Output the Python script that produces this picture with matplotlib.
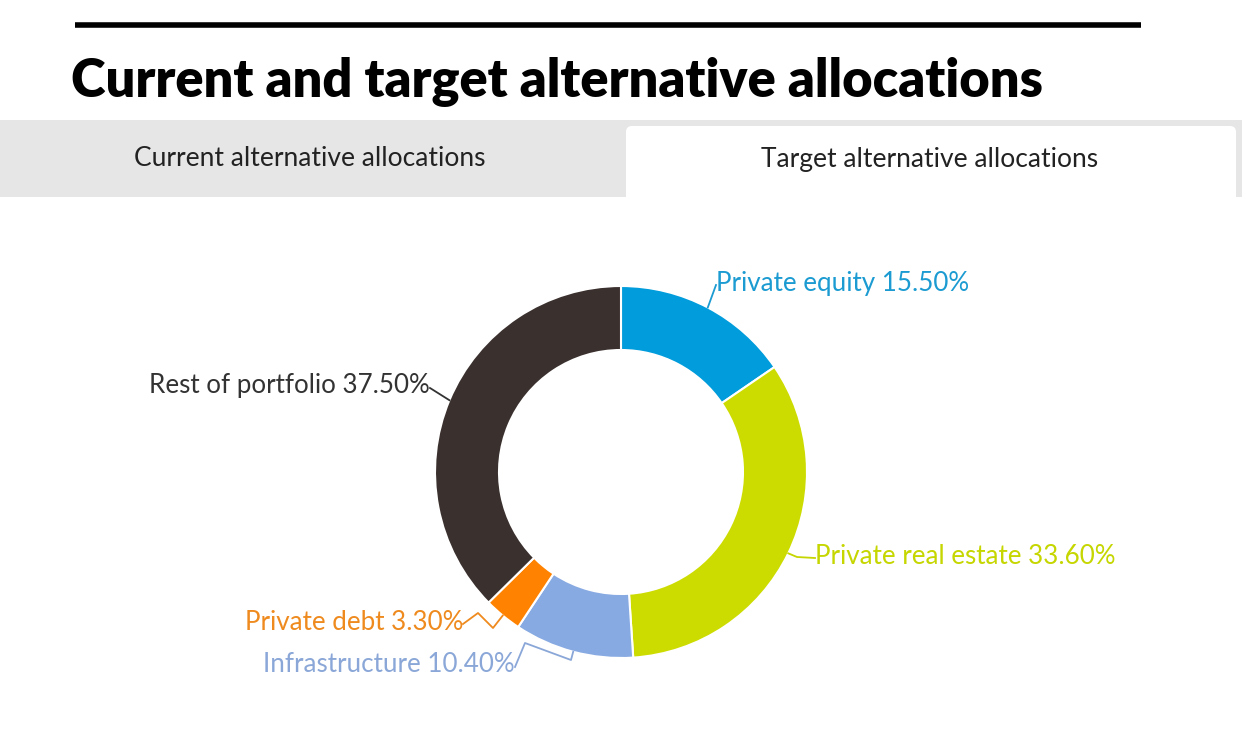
import numpy as np
import matplotlib as mpl
import matplotlib.pyplot as plt
from matplotlib.patches import Rectangle, FancyBboxPatch

mpl.use('Agg')

# data
categorias = ["Private equity", "Private real estate", "Infrastructure",
              "Private debt", "Rest of portfolio"]
valores = [15.50, 33.60, 10.40, 3.30, 37.50]
cores = ["#009cdb", "#cddc00", "#88aae2", "#ff8200", "#3a302e"]
cores_texto = ["#1b9bd1", "#c5d600", "#8aa7d8", "#ee8a1e", "#333333"]
abas = ["Current alternative allocations", "Target alternative allocations"]
titulo = "Current and target alternative allocations"

W, H = 1242, 754
fig = plt.figure(figsize=(W / 100, H / 100), dpi=100)
ax = fig.add_axes([0, 0, 1, 1])


def py(y):
    # y da imagem (de cima) para y do eixo (de baixo)
    return H - y


# donut
cx, cy, r = 621, py(472), 186
largura = 64
wedges, _ = ax.pie(valores, colors=cores, startangle=90, counterclock=False,
                   center=(cx, cy), radius=r,
                   wedgeprops=dict(width=largura, edgecolor='white', linewidth=1.5))
ax.set_xlim(0, W)
ax.set_ylim(0, H)
ax.set_aspect('equal')
ax.axis('off')

# linha do topo e titulo
ax.plot([75, 1141], [py(25), py(25)], color='black', lw=4, solid_capstyle='butt')
ax.text(71, py(82), titulo, fontsize=37.7, fontweight='heavy', family='Lato',
        va='center', ha='left', color='black')

# abas
ax.add_patch(Rectangle((0, py(197)), W, 77, facecolor='#e6e6e6', edgecolor='none'))
ax.add_patch(FancyBboxPatch((626, py(210)), 610, 84,
                            boxstyle="round,pad=0,rounding_size=6",
                            facecolor='white', edgecolor='none'))
ax.text(310, py(159), abas[0], fontsize=19, family='Lato', ha='center', va='center', color='#222222')
ax.text(930, py(159), abas[1], fontsize=19, family='Lato', ha='center', va='center', color='#222222')

# rotulos: posicao do texto e linha de ligacao (saindo do meio de cada fatia)
posicoes = [(716, 284, 'left'), (815, 556, 'left'), (515, 665, 'right'),
            (463, 622, 'right'), (430, 386, 'right')]
meios = [(w.theta1 + w.theta2) / 2 for w in wedges]
ancoras = [(cx + r * np.cos(np.radians(a)), cy + r * np.sin(np.radians(a))) for a in meios]
dobras = [
    [],
    [(797, 557)],
    [(571, 660), (525, 643)],
    [(493, 628), (478, 613)],
    [],
]
for i, cat in enumerate(categorias):
    tx, ty, ha = posicoes[i]
    x0, y0 = ancoras[i]
    xs = [x0] + [p[0] for p in dobras[i]] + [tx]
    ys = [y0] + [py(p[1]) for p in dobras[i]] + [py(ty + (1 if i == 0 else 2))]
    ax.plot(xs, ys, color=cores_texto[i], lw=1.3)
    ax.text(tx, py(ty), "%s %.2f%%" % (cat, valores[i]), fontsize=18.7, family='Lato',
            color=cores_texto[i], ha=ha, va='center')

fig.savefig('out.png', dpi=100)
